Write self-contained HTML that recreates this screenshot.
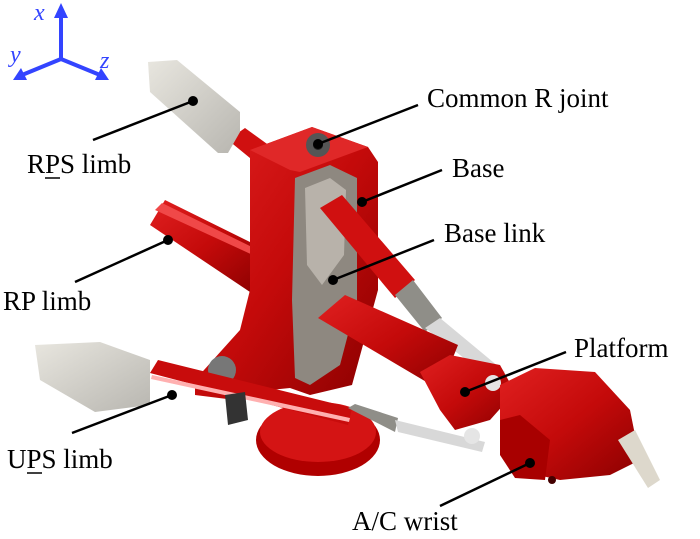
<!DOCTYPE html>
<html><head><meta charset="utf-8"><style>
html,body{margin:0;padding:0;background:#fff;}
svg{display:block}
.t{font-family:"Liberation Serif","DejaVu Serif",serif;font-size:27px;fill:#000;}
.a{font-family:"Liberation Serif","DejaVu Serif",serif;font-size:24px;font-style:italic;fill:#3344ff;}
</style></head><body>
<svg width="700" height="539" viewBox="0 0 700 539" xmlns="http://www.w3.org/2000/svg">
<defs>
<linearGradient id="rg" x1="0" y1="0" x2="1" y2="1">
<stop offset="0" stop-color="#e02020"/><stop offset="0.5" stop-color="#c40a0a"/><stop offset="1" stop-color="#8a0000"/></linearGradient>
<linearGradient id="gg" x1="0" y1="0" x2="1" y2="1">
<stop offset="0" stop-color="#e8e6df"/><stop offset="1" stop-color="#b8b6b0"/></linearGradient>
</defs>
<!-- axes -->
<g stroke="#3344ff" stroke-width="4">
<line x1="61" y1="59" x2="61" y2="14"/><line x1="61" y1="59" x2="22" y2="75"/><line x1="61" y1="59" x2="100" y2="75"/>
</g>
<g fill="#3344ff">
<polygon points="61,3 54,18 68,18"/><polygon points="13,80 21,68 27,80"/><polygon points="109,80 95,80 101,68"/>
</g>
<text x="34" y="20" class="a" font-family="Liberation Serif, serif">x</text>
<text x="10" y="62" class="a" font-family="Liberation Serif, serif">y</text>
<text x="100" y="68" class="a" font-family="Liberation Serif, serif">z</text>

<!-- base disk -->
<ellipse cx="318" cy="440" rx="62" ry="36" fill="#b00000"/>
<ellipse cx="318" cy="432" rx="58" ry="30" fill="#d41414"/>
<!-- RPS upper rod -->
<polygon points="228,140 245,128 310,175 295,195" fill="#d01010"/>
<polygon points="148,62 177,60 240,112 240,132 228,153 218,153 150,92" fill="url(#gg)"/>
<!-- RP limb tube -->
<polygon points="150,225 165,200 262,248 250,292" fill="url(#rg)"/>
<polygon points="155,210 162,203 258,250 255,256" fill="#f04848"/>
<!-- main base plate -->
<polygon points="250,150 312,127 368,147 378,162 378,290 352,385 310,395 290,388 270,390 235,400 195,395 195,380 240,330 250,290" fill="url(#rg)"/>
<polygon points="250,150 312,127 368,147 300,172 290,170" fill="#e02828"/>
<!-- inner grey plate -->
<polygon points="295,178 330,165 357,178 357,300 340,365 310,385 295,378 292,300" fill="#8e8880"/>
<polygon points="305,188 330,178 346,190 344,255 322,285 307,265" fill="#b8b2aa"/>
<circle cx="318" cy="145" r="12" fill="#555"/><circle cx="318" cy="145" r="5" fill="#222"/>
<circle cx="222" cy="370" r="14" fill="#777"/>
<!-- base link cylinder -->
<polygon points="320,208 342,195 415,280 395,298" fill="#d01010"/>
<polygon points="395,295 413,280 442,318 425,332" fill="#8f8e88"/>
<polygon points="425,328 440,318 505,372 495,382" fill="#d8d8d8"/>
<!-- middle red cylinder -->
<polygon points="318,318 345,295 458,345 440,390" fill="url(#rg)"/>
<!-- UPS lower rod -->
<polygon points="150,373 158,360 352,408 348,425" fill="#c80c0c"/>
<polygon points="152,375 350,418 349,422 151,379" fill="#ffb0b0"/>
<polygon points="348,408 355,404 398,418 395,432" fill="#8f8e88"/>
<polygon points="395,420 398,432 482,452 485,442" fill="#d8d8d8"/>
<polygon points="35,345 100,342 150,360 150,405 95,412 40,380" fill="url(#gg)"/>
<polygon points="225,395 245,392 248,420 228,425" fill="#333"/>
<!-- platform -->
<polygon points="420,372 450,355 500,365 515,392 490,420 455,430 440,410" fill="url(#rg)"/>
<circle cx="493" cy="383" r="8" fill="#e5e5e5"/><circle cx="472" cy="436" r="8" fill="#e5e5e5"/>
<!-- wrist -->
<polygon points="500,385 535,368 595,372 630,410 640,460 610,475 560,480 515,470 500,440" fill="url(#rg)"/>
<polygon points="500,420 520,415 550,440 545,480 515,478 500,455" fill="#a80000"/>
<polygon points="618,440 635,430 660,480 648,488" fill="#ddd8cc"/>
<circle cx="552" cy="480" r="4" fill="#400"/>

<!-- leaders -->
<g stroke="#000" stroke-width="2.5" fill="none">
<line x1="93" y1="140" x2="193" y2="101"/>
<line x1="418" y1="105" x2="318" y2="144"/>
<line x1="442" y1="170" x2="362" y2="202"/>
<line x1="434" y1="240" x2="333" y2="280"/>
<line x1="75" y1="282" x2="168" y2="240"/>
<line x1="566" y1="352" x2="465" y2="392"/>
<line x1="72" y1="433" x2="172" y2="395"/>
<line x1="440" y1="506" x2="530" y2="463"/>
</g>
<g fill="#000">
<circle cx="193" cy="101" r="5"/><circle cx="318" cy="144" r="5"/><circle cx="362" cy="202" r="5"/>
<circle cx="333" cy="280" r="5"/><circle cx="168" cy="240" r="5"/><circle cx="465" cy="392" r="5"/>
<circle cx="172" cy="395" r="5"/><circle cx="530" cy="463" r="5"/>
</g>
<!-- labels -->
<g font-family="Liberation Serif, serif" font-size="27">
<text x="427" y="107" class="t">Common R joint</text>
<text x="452" y="177" class="t">Base</text>
<text x="444" y="242" class="t">Base link</text>
<text x="27" y="173" class="t">RPS limb</text>
<text x="3" y="310" class="t">RP limb</text>
<text x="574" y="357" class="t">Platform</text>
<text x="7" y="468" class="t">UPS limb</text>
<text x="352" y="530" class="t">A/C wrist</text>
</g>
<line x1="45" y1="178" x2="60" y2="178" stroke="#000" stroke-width="1.5"/>
<line x1="27" y1="473" x2="42" y2="473" stroke="#000" stroke-width="1.5"/>
</svg>
</body></html>
